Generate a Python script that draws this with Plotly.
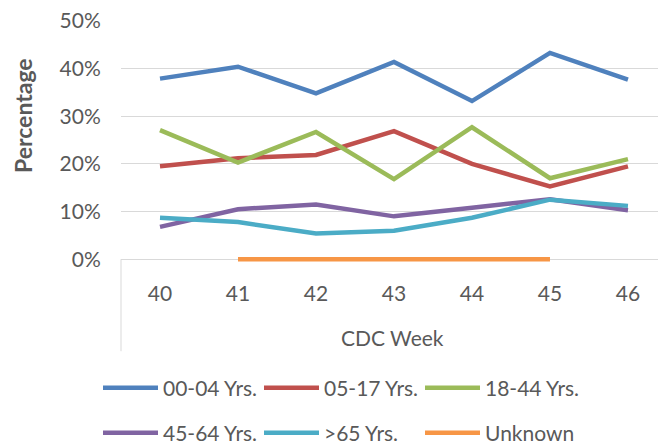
import plotly.graph_objects as go

weeks = ["40", "41", "42", "43", "44", "45", "46"]
age_00_04 = [37.9, 40.4, 34.8, 41.4, 33.2, 43.3, 37.7]
age_05_17 = [19.5, 21.2, 21.9, 26.9, 20.0, 15.3, 19.5]
age_18_44 = [27.1, 20.3, 26.7, 16.8, 27.7, 17.0, 21.0]
age_45_64 = [6.8, 10.5, 11.5, 9.0, 10.8, 12.6, 10.3]
age_65_up = [8.7, 7.8, 5.4, 6.0, 8.7, 12.5, 11.2]
unknown = [None, 0, 0, 0, 0, 0, None]

series = [
    ("00-04 Yrs.", age_00_04, "#4F81BD", "legend"),
    ("05-17 Yrs.", age_05_17, "#C0504D", "legend"),
    ("18-44 Yrs.", age_18_44, "#9BBB59", "legend"),
    ("45-64 Yrs.", age_45_64, "#8064A2", "legend2"),
    (">65 Yrs.", age_65_up, "#4BACC6", "legend2"),
    ("Unknown", unknown, "#F79646", "legend2"),
]

FONT = "Lato"
TXT = "#595959"
GRID = "#D9D9D9"

fig = go.Figure()
for name, vals, color, leg in series:
    fig.add_trace(go.Scatter(
        x=weeks, y=vals, name=name, mode="lines",
        line=dict(color=color, width=4.5),
        legend=leg, connectgaps=False,
    ))

H = 445
plot_top = 20.7
plot_bot = 264.5
ph = plot_bot - plot_top

def py(px):
    return (plot_bot - px) / ph

legend_common = dict(
    orientation="h", xref="container", yref="container",
    xanchor="left", yanchor="middle",
    font=dict(family=FONT, size=21, color=TXT),
    itemwidth=55, entrywidth=91, entrywidthmode="pixels",
    bgcolor="rgba(0,0,0,0)", borderwidth=0,
)

fig.update_layout(
    width=658, height=445,
    margin=dict(l=121, r=0, t=plot_top, b=H - plot_bot),
    paper_bgcolor="white", plot_bgcolor="white",
    font=dict(family=FONT, size=21, color=TXT),
    xaxis=dict(
        type="category", range=[-0.5, 6.385],
        showgrid=False, zeroline=False, showline=False,
        ticks="outside", ticklen=11, tickcolor="rgba(0,0,0,0)",
        tickfont=dict(family=FONT, size=21, color=TXT),
    ),
    yaxis=dict(
        range=[-1, 50], dtick=10, tick0=0, ticksuffix="%",
        showgrid=True, gridcolor=GRID, gridwidth=1,
        zeroline=True, zerolinecolor=GRID, zerolinewidth=1,
        showline=False,
        ticks="outside", ticklen=15, tickcolor="rgba(0,0,0,0)",
        tickfont=dict(family=FONT, size=21, color=TXT),
    ),
    legend=dict(legend_common, x=98 / 658, y=1 - 388 / H),
    legend2=dict(legend_common, x=98 / 658, y=1 - 433 / H),
    shapes=[dict(
        type="line", xref="paper", yref="paper",
        x0=0, x1=0, y0=py(259.7), y1=py(352),
        line=dict(color=GRID, width=1),
    )],
    annotations=[
        dict(text="CDC Week", xref="paper", yref="paper",
             x=(392 - 121) / 537, y=py(338), xanchor="center", yanchor="middle",
             showarrow=False, font=dict(family=FONT, size=21, color=TXT)),
        dict(text="<b>Percentage</b>", xref="paper", yref="paper",
             x=(23 - 121) / 537, y=py(116), xanchor="center", yanchor="middle",
             textangle=-90, showarrow=False,
             font=dict(family=FONT, size=23, color=TXT)),
    ],
)

fig.write_html("out.html", config={"displayModeBar": False},
               post_script="document.body.style.margin='0';")
